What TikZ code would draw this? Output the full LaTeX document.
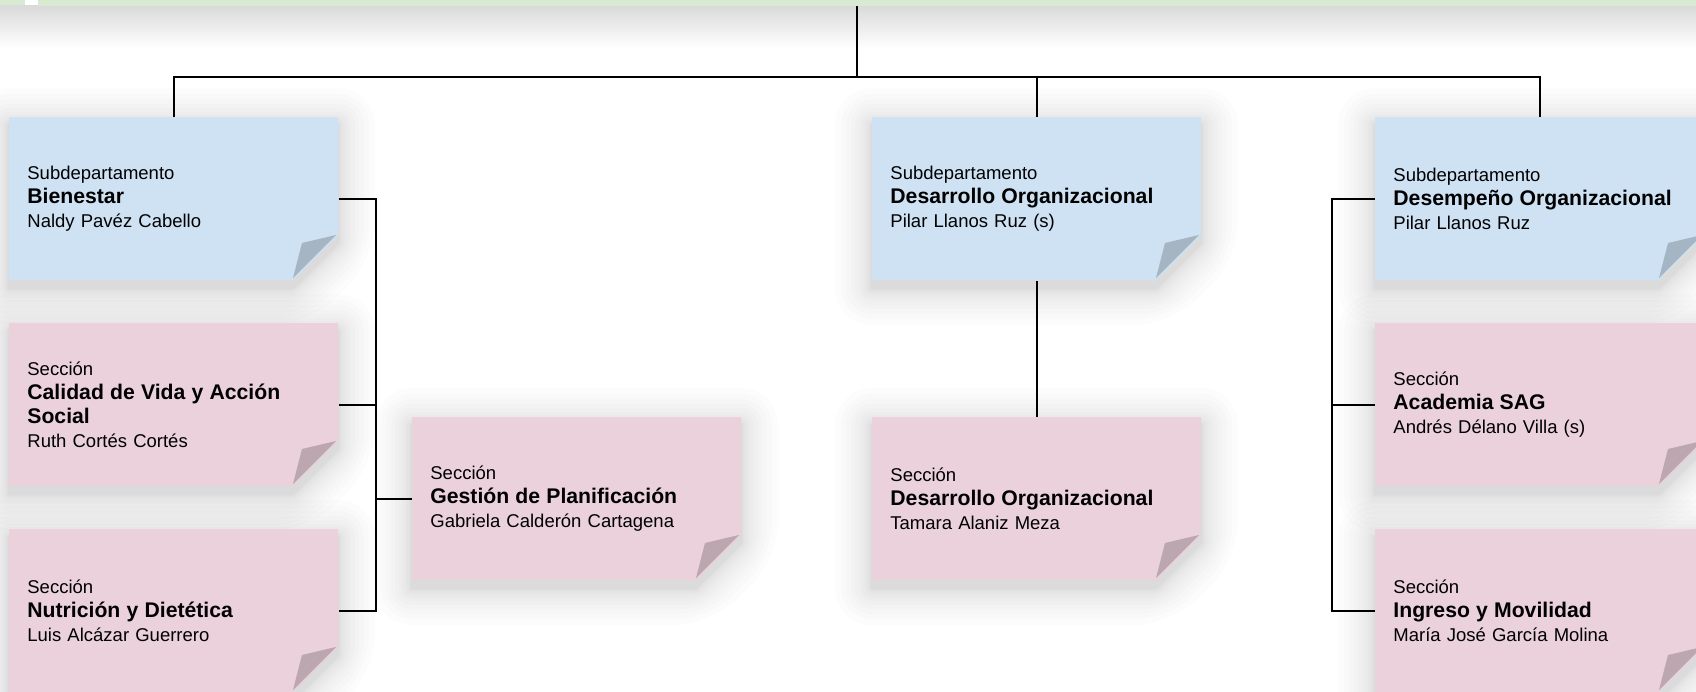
\documentclass[tikz,border=0pt]{standalone}
\usepackage{fontspec}
\setmainfont{Liberation Sans}
\usetikzlibrary{calc}
\pgfdeclarelayer{background}
\pgfsetlayers{background,main}
\definecolor{subblue}{HTML}{CFE2F3}
\definecolor{secpink}{HTML}{EAD1DC}
\definecolor{foldblue}{HTML}{A5B5C4}
\definecolor{foldpink}{HTML}{BCA6B0}
\definecolor{topgreen}{HTML}{D9EAD3}
\tikzset{
  cardnode/.style={rectangle, anchor=north west, minimum width=164.5pt, minimum height=81.5pt,
    text width=146.5pt, inner xsep=9pt, inner ysep=0pt, align=left,
    font=\fontsize{9.25}{12}\selectfont},
  shadowlayer/.style={fill=black, fill opacity=0.010},
  topbar/.style={rectangle, fill=topgreen, inner sep=0pt, anchor=south west},
  conn/.style={draw=black, line width=1pt},
}
\newcommand\cardtitle[1]{{\fontsize{10.6}{12}\selectfont\bfseries #1}}
\newcommand\orgcard[6]{%
  \begin{scope}[shift={(#2,#3)}]
    \begin{pgfonlayer}{background}
      \foreach \k in {1,2,3,5,7,10,13,17,21,26,31,37}{
        \fill[shadowlayer, rounded corners=\k*0.5pt]
          (-\k,-\k+8) -- (329+\k,-\k+8) -- (329+\k,126+0.414*\k)
          -- (284+0.414*\k,171+\k) -- (-\k,171+\k) -- cycle;
      }
      \fill[#4] (0,0) -- (329,0) -- (329,118) -- (284,163) -- (0,163) -- cycle;
      \fill[#5] (327,118) -- (293,126) -- (284,161) -- cycle;
    \end{pgfonlayer}
    \node[cardnode] (#1) at (0,0) {#6};
  \end{scope}}
\begin{document}
\begin{tikzpicture}[x=0.5pt, y=-0.5pt]
  \useasboundingbox (0,0) rectangle (1696,691);
  \begin{pgfonlayer}{background}
    \fill[white] (0,0) rectangle (1696,691);
    \shade[top color=black!15, bottom color=white] (0,5) rectangle (1696,48);
  \end{pgfonlayer}
  \node[topbar, minimum width=12.5pt, minimum height=5pt] (topb) at (0,5) {};
  \node[topbar, minimum width=829pt, minimum height=3pt] (top) at (38,6) {};

  \orgcard{bien}{9}{117}{subblue}{foldblue}{Subdepartamento\\\cardtitle{Bienestar}\\Naldy Pavéz Cabello}
  \orgcard{cal}{9}{323}{secpink}{foldpink}{Sección\\\cardtitle{Calidad de Vida y Acción}\\\cardtitle{Social}\\Ruth Cortés Cortés}
  \orgcard{nutr}{9}{529}{secpink}{foldpink}{Sección\\\cardtitle{Nutrición y Dietética}\\Luis Alcázar Guerrero}
  \orgcard{gest}{412}{417}{secpink}{foldpink}{Sección\\\cardtitle{Gestión de Planificación}\\Gabriela Calderón Cartagena}
  \orgcard{desa}{872}{117}{subblue}{foldblue}{Subdepartamento\\\cardtitle{Desarrollo Organizacional}\\Pilar Llanos Ruz (s)}
  \orgcard{desas}{872}{417}{secpink}{foldpink}{Sección\\\cardtitle{Desarrollo Organizacional}\\Tamara Alaniz Meza}
  \orgcard{desp}{1375}{117}{subblue}{foldblue}{Subdepartamento\\\cardtitle{Desempeño Organizacional}\\Pilar Llanos Ruz}
  \orgcard{acad}{1375}{323}{secpink}{foldpink}{Sección\\\cardtitle{Academia SAG}\\Andrés Délano Villa (s)}
  \orgcard{ingr}{1375}{529}{secpink}{foldpink}{Sección\\\cardtitle{Ingreso y Movilidad}\\María José García Molina}

  \coordinate (j) at (857,77);
  \coordinate (lb) at (376,0);
  \coordinate (rb) at (1332,0);
  \draw[conn] (top.south -| j) -- (j);
  \draw[conn] (bien.north) -- (bien.north |- j) -- (desp.north |- j) -- (desp.north);
  \draw[conn] (desa.north |- j) -- (desa.north);
  \draw[conn] (desa.south) -- (desas.north);
  \draw[conn] (bien.east) -- (bien.east -| lb) -- (nutr.east -| lb) -- (nutr.east);
  \draw[conn] (cal.east) -- (cal.east -| lb);
  \draw[conn] (gest.west) -- (gest.west -| lb);
  \draw[conn] (desp.west) -- (desp.west -| rb) -- (ingr.west -| rb) -- (ingr.west);
  \draw[conn] (acad.west) -- (acad.west -| rb);
\end{tikzpicture}
\end{document}
